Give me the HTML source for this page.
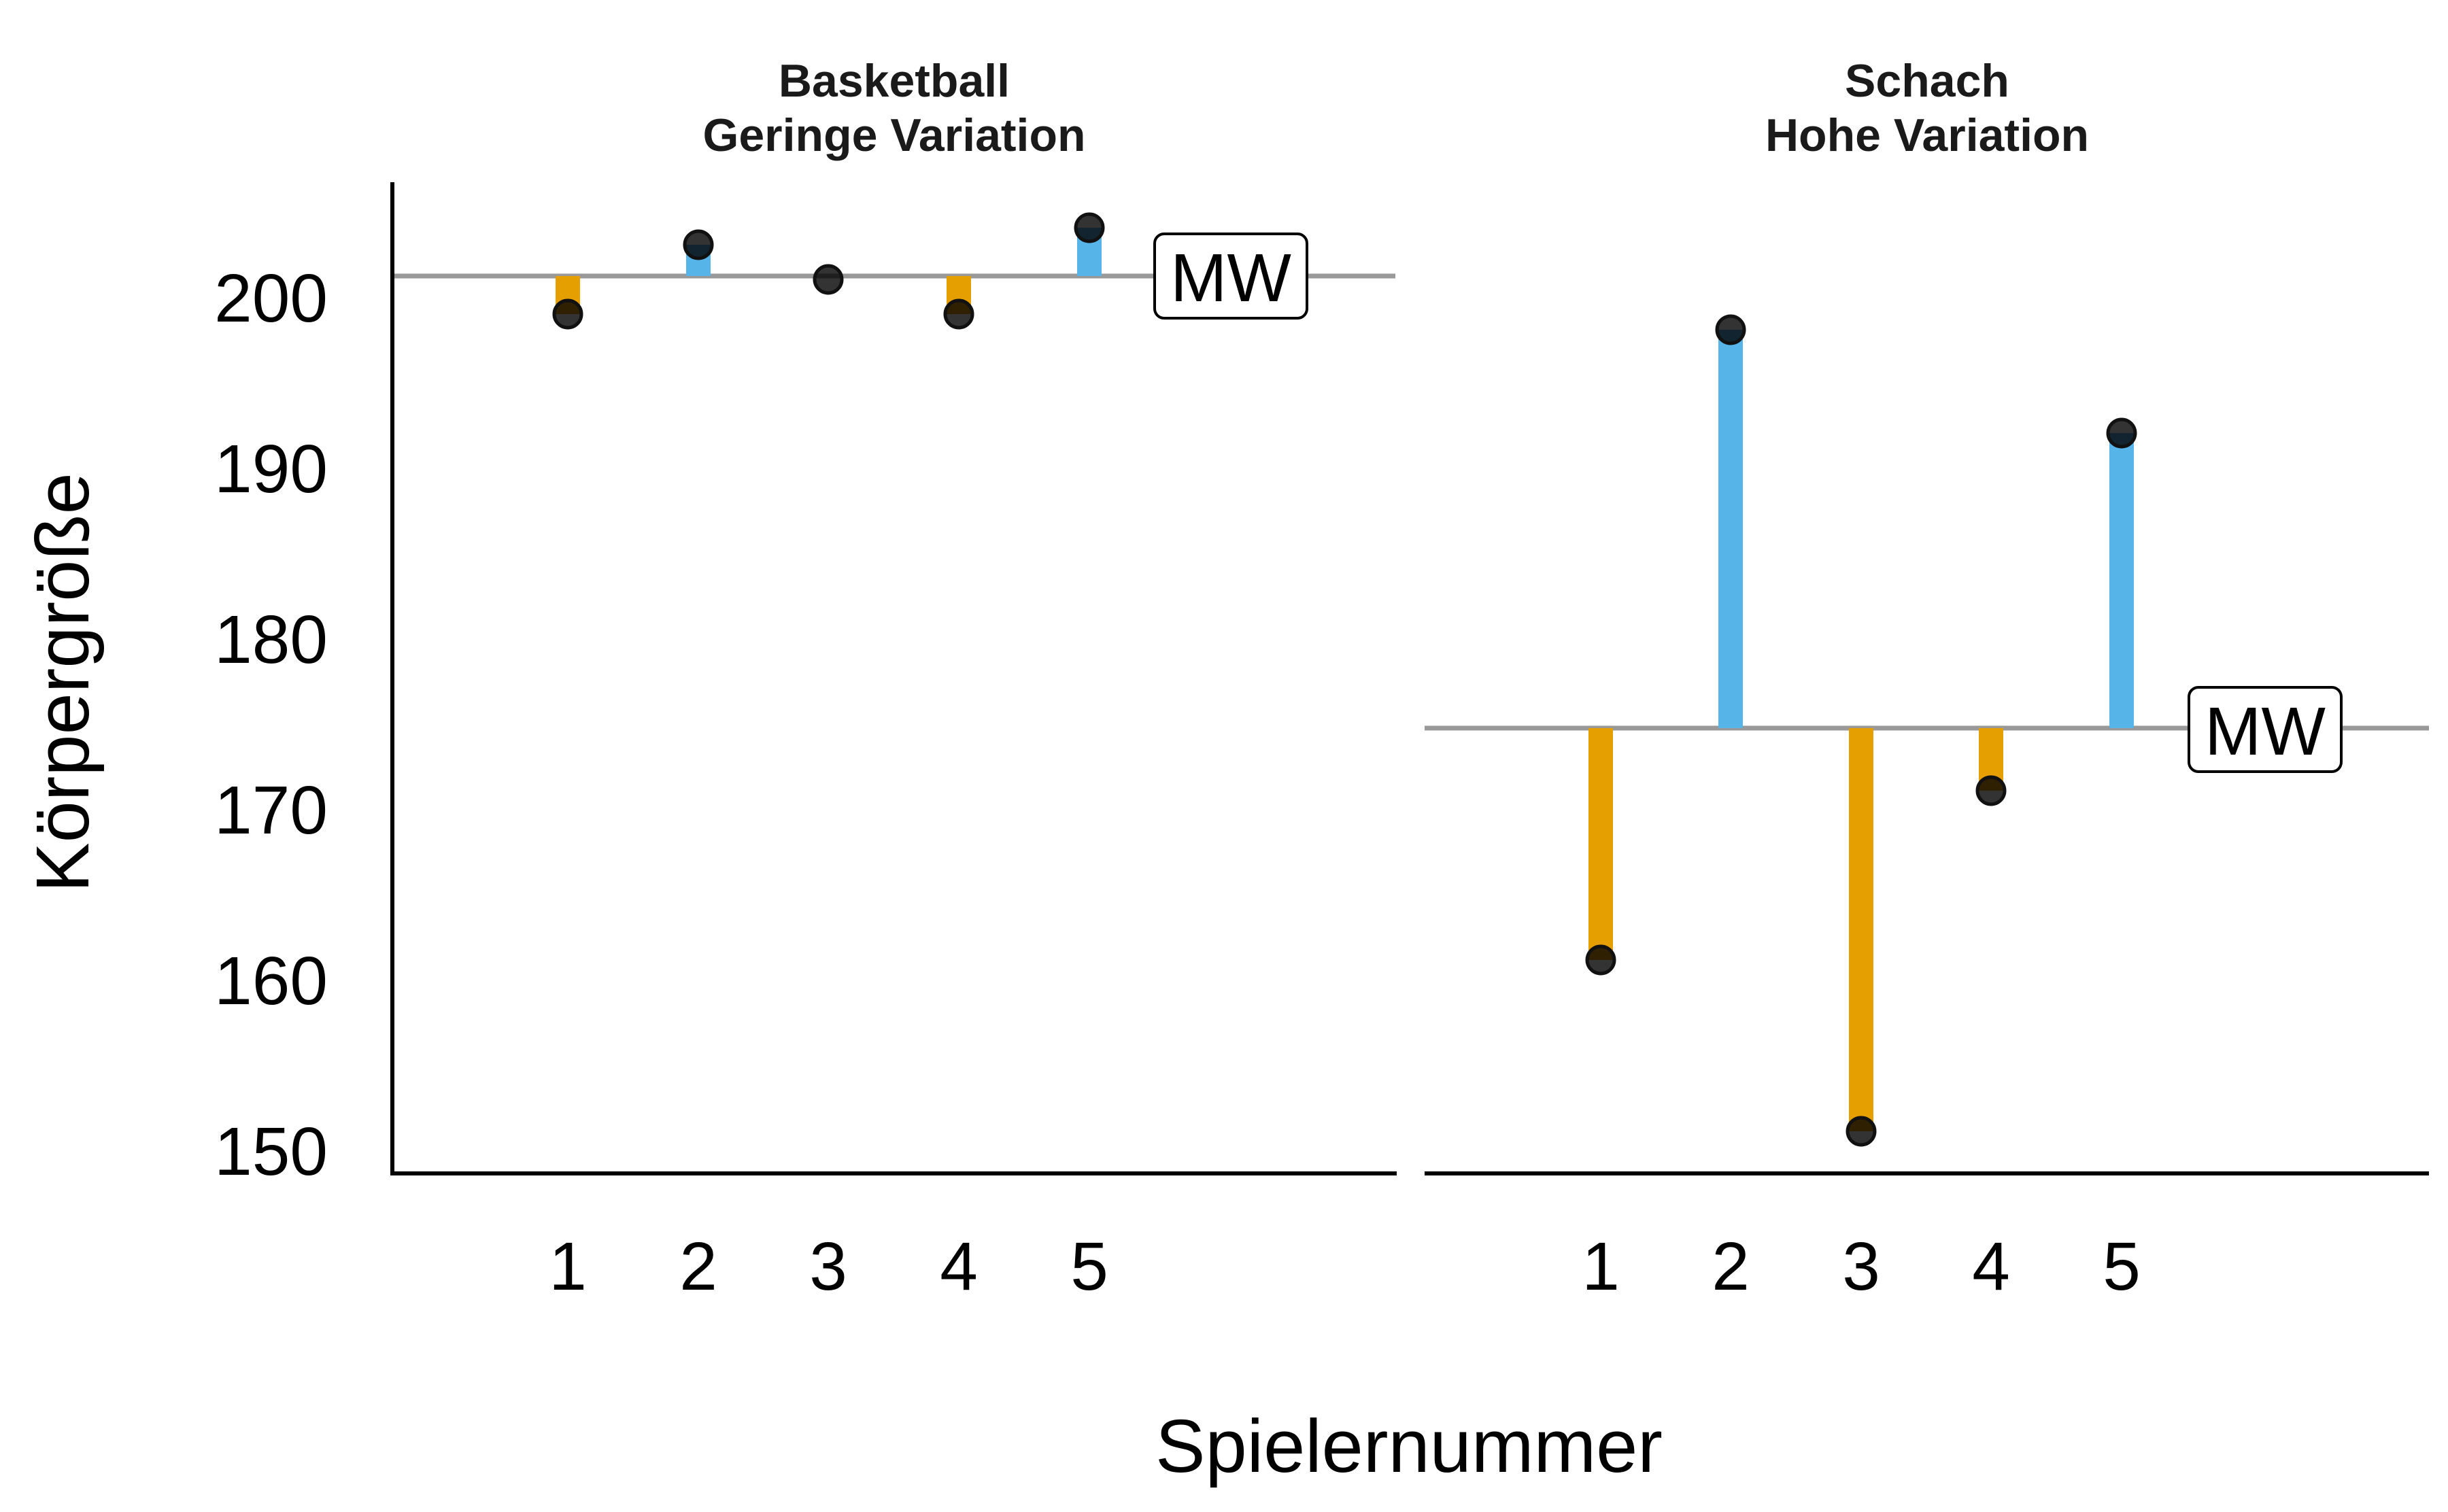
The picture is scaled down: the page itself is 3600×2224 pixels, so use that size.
<!DOCTYPE html>
<html><head><meta charset="utf-8"><style>html,body{margin:0;padding:0;background:#fff}svg{display:block}</style></head>
<body>
<svg width="3600" height="2224" viewBox="0 0 3600 2224" xmlns="http://www.w3.org/2000/svg" font-family="Liberation Sans, sans-serif">
<rect width="3600" height="2224" fill="#fff"/>
<!-- titles -->
<g font-weight="bold" font-size="68" fill="#1a1a1a" text-anchor="middle">
<text x="1315" y="142">Basketball</text>
<text x="1315" y="222">Geringe Variation</text>
<text x="2834" y="142">Schach</text>
<text x="2834" y="222">Hohe Variation</text>
</g>
<!-- y ticks -->
<g font-size="100" fill="#000" text-anchor="end">
<text x="482" y="473">200</text>
<text x="482" y="724">190</text>
<text x="482" y="975">180</text>
<text x="482" y="1226">170</text>
<text x="482" y="1477">160</text>
<text x="482" y="1728">150</text>
</g>
<text transform="translate(130,1004) rotate(-90)" font-size="110" text-anchor="middle">Körpergröße</text>
<text x="2072" y="2165" font-size="110" text-anchor="middle">Spielernummer</text>
<!-- x ticks -->
<g font-size="100" text-anchor="middle">
<text x="835" y="1897">1</text><text x="1027" y="1897">2</text><text x="1218" y="1897">3</text><text x="1410" y="1897">4</text><text x="1602" y="1897">5</text>
<text x="2354" y="1897">1</text><text x="2545" y="1897">2</text><text x="2737" y="1897">3</text><text x="2928" y="1897">4</text><text x="3120" y="1897">5</text>
</g>
<!-- mean lines -->
<line x1="577" y1="406" x2="2052" y2="406" stroke="#999" stroke-width="7"/>
<line x1="2095" y1="1071" x2="3572" y2="1071" stroke="#999" stroke-width="7"/>
<!-- stems left -->
<g stroke-width="36">
<line x1="835" y1="406" x2="835" y2="462" stroke="#E69F00"/>
<line x1="1027" y1="406" x2="1027" y2="360" stroke="#56B4E9"/>
<line x1="1410" y1="406" x2="1410" y2="462" stroke="#E69F00"/>
<line x1="1602" y1="406" x2="1602" y2="335" stroke="#56B4E9"/>
<line x1="2354" y1="1071" x2="2354" y2="1412" stroke="#E69F00"/>
<line x1="2545" y1="1071" x2="2545" y2="485" stroke="#56B4E9"/>
<line x1="2737" y1="1071" x2="2737" y2="1664" stroke="#E69F00"/>
<line x1="2928" y1="1071" x2="2928" y2="1163" stroke="#E69F00"/>
<line x1="3120" y1="1071" x2="3120" y2="637" stroke="#56B4E9"/>
</g>
<!-- points -->
<g fill="#000" fill-opacity="0.8" stroke="#111" stroke-width="5">
<circle cx="835" cy="462" r="20"/><circle cx="1027" cy="360" r="20"/><circle cx="1218" cy="411" r="20"/><circle cx="1410" cy="462" r="20"/><circle cx="1602" cy="335" r="20"/>
<circle cx="2354" cy="1412" r="20"/><circle cx="2545" cy="485" r="20"/><circle cx="2737" cy="1664" r="20"/><circle cx="2928" cy="1163" r="20"/><circle cx="3120" cy="637" r="20"/>
</g>
<!-- MW labels -->
<rect x="1698" y="344" width="224" height="124" rx="14" fill="#fff" stroke="#000" stroke-width="4"/>
<text x="1810" y="443" font-size="100" text-anchor="middle">MW</text>
<rect x="3219" y="1011" width="224" height="124" rx="14" fill="#fff" stroke="#000" stroke-width="4"/>
<text x="3331" y="1110" font-size="100" text-anchor="middle">MW</text>
<!-- axes -->
<line x1="577" y1="268" x2="577" y2="1729" stroke="#000" stroke-width="6"/>
<line x1="574" y1="1726" x2="2054" y2="1726" stroke="#000" stroke-width="6"/>
<line x1="2095" y1="1726" x2="3572" y2="1726" stroke="#000" stroke-width="6"/>
</svg>
</body></html>
